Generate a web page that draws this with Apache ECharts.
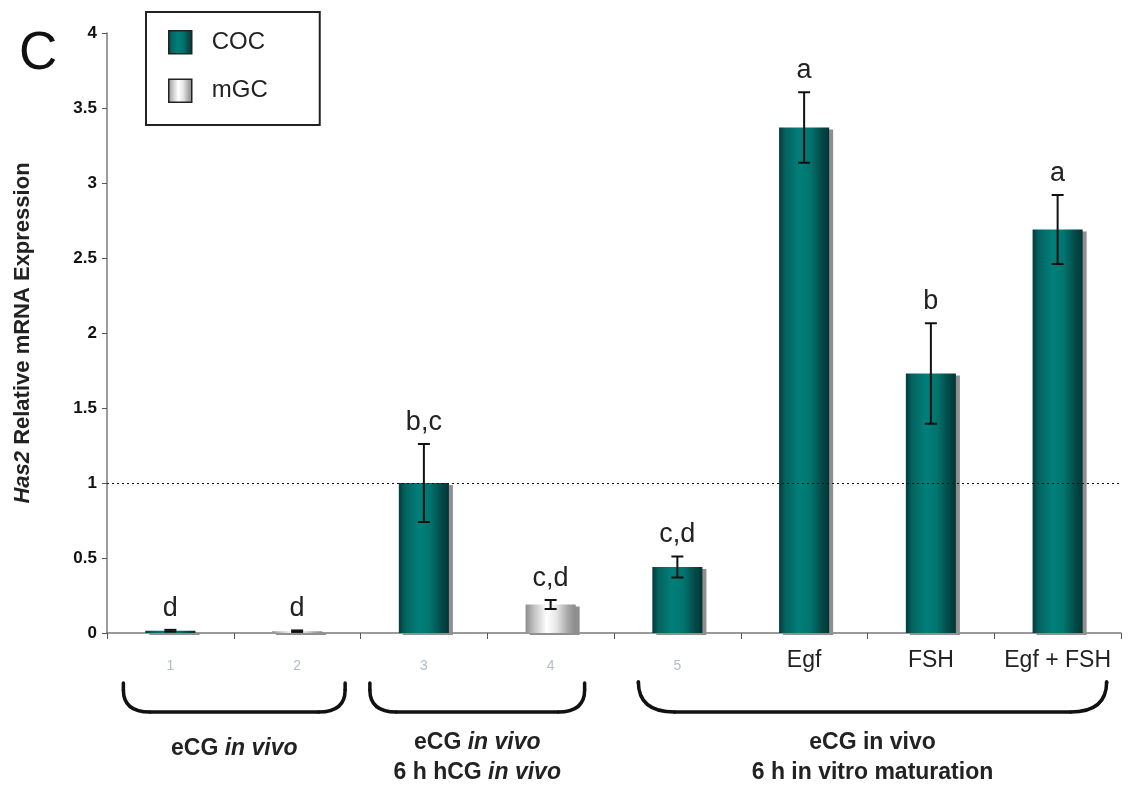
<!DOCTYPE html>
<html>
<head>
<meta charset="utf-8">
<script src="https://cdn.jsdelivr.net/npm/echarts@6/dist/echarts.min.js"></script>
<style>
html,body{margin:0;padding:0;background:#fff;}
#chart{width:1136px;height:785px;}
</style>
</head>
<body>
<div id="chart"></div>
<script>
// ---- data ----
const categories = ['1', '2', '3', '4', '5', 'Egf', 'FSH', 'Egf + FSH'];
const cocValues = [0.015, null, 1.0, null, 0.44, 3.37, 1.73, 2.69];
const mgcValues = [null, 0.012, null, 0.19, null, null, null, null];
const errValues = [0.006, 0.005, 0.26, 0.03, 0.07, 0.235, 0.335, 0.23];
const letters = ['d', 'd', 'b,c', 'c,d', 'c,d', 'a', 'b', 'a'];
const yTicks = [0, 0.5, 1, 1.5, 2, 2.5, 3, 3.5, 4];
const groups = [
  { from: 0, to: 1, lines: ['eCG {i|in vivo}'] },
  { from: 2, to: 3, lines: ['eCG {i|in vivo}', '6 h hCG {i|in vivo}'] },
  { from: 4, to: 7, lines: ['eCG in vivo', '6 h in vitro maturation'] }
];
// bracket edge offsets (px) relative to first/last category centres, and corner radius
const bracketPad = [[-47, 48, 22], [-54, 34, 22], [-39, 49, 30]];

const FONT = 'Liberation Sans, Arial, sans-serif';
const tealGrad = new echarts.graphic.LinearGradient(0, 0, 1, 0, [
  { offset: 0, color: '#033a3a' },
  { offset: 0.12, color: '#04625f' },
  { offset: 0.4, color: '#017f7a' },
  { offset: 0.62, color: '#01746f' },
  { offset: 0.85, color: '#034a48' },
  { offset: 1, color: '#023535' }
]);
const greyGrad = new echarts.graphic.LinearGradient(0, 0, 1, 0, [
  { offset: 0, color: '#8c8c8c' },
  { offset: 0.15, color: '#bdbdbd' },
  { offset: 0.42, color: '#ffffff' },
  { offset: 0.62, color: '#e6e6e6' },
  { offset: 0.85, color: '#a6a6a6' },
  { offset: 1, color: '#8a8a8a' }
]);

const chart = echarts.init(document.getElementById('chart'), null, { renderer: 'canvas' });

const errData = categories.map((c, i) => {
  const v = cocValues[i] != null ? cocValues[i] : mgcValues[i];
  return [i, v, errValues[i], letters[i]];
});

const shadow = { shadowColor: '#8f8f8f', shadowOffsetX: 4, shadowOffsetY: 2, shadowBlur: 0 };

chart.setOption({
  animation: false,
  backgroundColor: '#fff',
  textStyle: { fontFamily: FONT },
  grid: { left: 107, right: 15, top: 33, bottom: 152 },
  legend: {
    orient: 'vertical',
    left: 146, top: 12,
    padding: [18, 52, 22, 22],
    itemGap: 24,
    itemWidth: 23, itemHeight: 23,
    borderColor: '#222', borderWidth: 2,
    icon: 'rect',
    itemStyle: { borderColor: '#222', borderWidth: 1.5, shadowColor: 'rgba(0,0,0,0)', shadowOffsetX: 0, shadowOffsetY: 0 },
    textStyle: { fontSize: 24, color: '#222', fontFamily: FONT, padding: [0, 0, 0, 15] },
    data: ['COC', 'mGC']
  },
  xAxis: {
    type: 'category',
    data: categories,
    axisLine: { lineStyle: { color: '#7a7a7a', width: 1.5 } },
    axisTick: { show: true, length: 6, lineStyle: { color: '#555' } },
    axisLabel: {
      margin: 16,
      formatter: (v, i) => (i < 5 ? '{f|' + v + '}' : '{d|' + v + '}'),
      rich: {
        f: { fontSize: 14, color: '#b4bccb', fontFamily: FONT, padding: [10, 0, 0, 0] },
        d: { fontSize: 23, color: '#222', fontFamily: FONT }
      }
    }
  },
  yAxis: {
    type: 'value',
    min: 0, max: 4, interval: 0.5,
    name: '{i|Has2} Relative mRNA Expression',
    nameLocation: 'middle',
    nameGap: 73,
    nameTextStyle: {
      fontSize: 22, fontWeight: 'bold', color: '#222', fontFamily: FONT,
      rich: { i: { fontSize: 22, fontWeight: 'bold', fontStyle: 'italic', color: '#222', fontFamily: FONT } }
    },
    splitLine: { show: false },
    axisLine: { show: true, lineStyle: { color: '#7a7a7a', width: 1.5 } },
    axisTick: { show: true, length: 5, lineStyle: { color: '#555' } },
    axisLabel: {
      margin: 10, fontSize: 17, fontWeight: 'bold', color: '#111', fontFamily: FONT,
      formatter: v => (yTicks.indexOf(v) >= 0 ? String(v) : '')
    }
  },
  series: [
    {
      name: 'COC', type: 'bar', data: cocValues, barWidth: '39.5%', barGap: '-100%',
      itemStyle: Object.assign({ color: tealGrad }, shadow),
      markLine: {
        silent: true, symbol: 'none', label: { show: false },
        lineStyle: { type: [2, 3], color: '#111', width: 1.2 },
        data: [{ yAxis: 1 }]
      }
    },
    {
      name: 'mGC', type: 'bar', data: mgcValues, barWidth: '39.5%', barGap: '-100%',
      itemStyle: Object.assign({ color: greyGrad }, shadow)
    },
    {
      type: 'custom', z: 10, silent: true, clip: false,
      data: errData,
      renderItem: (params, api) => {
        const i = api.value(0), v = api.value(1), e = api.value(2);
        const txt = errData[params.dataIndex][3];
        const top = api.coord([i, v + e]);
        const bot = api.coord([i, v - e]);
        const cw = 6;
        return {
          type: 'group',
          children: [
            { type: 'line', shape: { x1: top[0], y1: top[1], x2: bot[0], y2: bot[1] }, style: { stroke: '#111', lineWidth: 2 } },
            { type: 'line', shape: { x1: top[0] - cw, y1: top[1], x2: top[0] + cw, y2: top[1] }, style: { stroke: '#111', lineWidth: 2 } },
            { type: 'line', shape: { x1: bot[0] - cw, y1: bot[1], x2: bot[0] + cw, y2: bot[1] }, style: { stroke: '#111', lineWidth: 2 } },
            { type: 'text', style: { text: txt, x: top[0], y: top[1] - 8, align: 'center', verticalAlign: 'bottom', fontSize: 27, fontFamily: FONT, fill: '#222' } }
          ]
        };
      }
    }
  ]
});

// panel letter, brackets and group labels below the axis, positioned from the category scale
const gfx = [{ type: 'text', left: 19, top: 28, style: { text: 'C', fontSize: 53, fontFamily: FONT, fill: '#111' } }];
const bStyle = { stroke: '#111', lineWidth: 3.5, fill: null, lineCap: 'round' };
groups.forEach((g, k) => {
  const a = chart.convertToPixel({ xAxisIndex: 0 }, g.from);
  const b = chart.convertToPixel({ xAxisIndex: 0 }, g.to);
  const x1 = a + bracketPad[k][0], x2 = b + bracketPad[k][1], r = bracketPad[k][2];
  const yTop = 683, yBot = 712;
  const rx = r * 1.2;
  gfx.push({ type: 'line', shape: { x1: x1, y1: yTop, x2: x1, y2: yBot - r }, style: bStyle });
  gfx.push({ type: 'bezierCurve', shape: { x1: x1, y1: yBot - r, cpx1: x1, cpy1: yBot, x2: x1 + rx, y2: yBot }, style: bStyle });
  gfx.push({ type: 'line', shape: { x1: x1 + rx, y1: yBot, x2: x2 - rx, y2: yBot }, style: bStyle });
  gfx.push({ type: 'bezierCurve', shape: { x1: x2 - rx, y1: yBot, cpx1: x2, cpy1: yBot, x2: x2, y2: yBot - r }, style: bStyle });
  gfx.push({ type: 'line', shape: { x1: x2, y1: yBot - r, x2: x2, y2: yTop }, style: bStyle });
  const cx = (x1 + x2) / 2;
  const single = g.lines.length === 1;
  gfx.push({
    type: 'text',
    style: {
      text: g.lines.join('\n'),
      x: cx, y: single ? 749 : 758,
      align: 'center', verticalAlign: 'middle',
      fontSize: 23, fontWeight: 'bold', fontFamily: FONT, fill: '#222', lineHeight: 30,
      rich: { i: { fontSize: 23, fontWeight: 'bold', fontStyle: 'italic', fontFamily: FONT, fill: '#222' } }
    }
  });
});
chart.setOption({ graphic: gfx });
</script>
</body>
</html>
